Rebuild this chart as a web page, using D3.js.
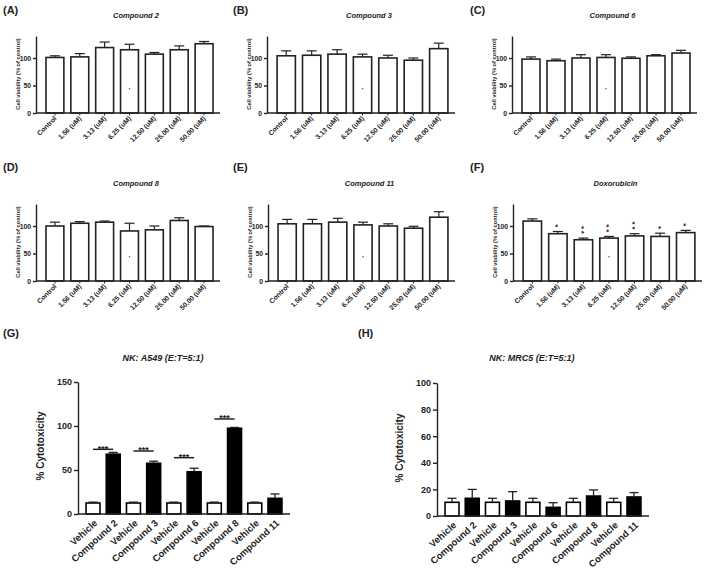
<!DOCTYPE html>
<html lang="en">
<head>
<meta charset="UTF-8">
<title>Cell viability and NK cytotoxicity</title>
<script src="https://cdnjs.cloudflare.com/ajax/libs/d3/7.8.5/d3.min.js"></script>
<style>
    body { margin: 0; background: #fff; }
    svg { display: block; font-family: 'Liberation Sans', Arial, sans-serif; font-weight: bold; }
    .axis path, .axis line { stroke: #222; stroke-width: 1.4; }
    .axis text { fill: #222; font-weight: bold; }
</style>
</head>
<body>
<div id="chart"></div>
<script>
// ---- data ----
const concLabels = ["Control", "1.56 (uM)", "3.13 (uM)", "6.25 (uM)", "12.50 (uM)", "25.00 (uM)", "50.00 (uM)"];
const viabilityTicks = [0, 50, 100];

const comp2Mean = [101, 102, 119, 115, 107, 115, 126];
const comp2Err = [3, 6, 10, 10, 3, 7, 4];
const comp3Mean = [104, 105, 107, 102, 100, 96, 117];
const comp3Err = [9, 8, 8, 5, 5, 4, 10];
const comp6Mean = [98, 95, 100, 101, 99.5, 104, 109];
const comp6Err = [4, 3, 6, 5, 2.5, 2, 5];
const comp8Mean = [100, 105, 107, 91, 93, 110, 99];
const comp8Err = [7, 3, 2, 14, 7, 5, 1];
const comp11Mean = [104, 104, 107, 102, 100, 96, 116];
const comp11Err = [8, 8, 7, 5, 4, 3.5, 10];
const doxMean = [109, 86, 75, 78, 82, 81, 88];
const doxErr = [4, 4, 3, 3, 4, 6, 4];
const doxSig = ["", "*", "**", "**", "**", "*", "*"];

const nkLabels = ["Vehicle", "Compound 2", "Vehicle", "Compound 3", "Vehicle", "Compound 6", "Vehicle", "Compound 8", "Vehicle", "Compound 11"];
const a549Mean = [12.5, 68, 12.5, 57.6, 12.5, 48, 12.5, 97.4, 12.5, 17.8];
const a549Err = [1, 2, 1, 2.4, 1, 4, 1, 1, 1, 5];
const a549SigY = [73.5, 71.6, 64, 108];   // height of each *** bracket
const a549Ticks = [0, 50, 100, 150];
const mrc5Mean = [10.3, 13.3, 10.3, 11.3, 10.3, 6.5, 10.3, 15, 10.3, 14.3];
const mrc5Err = [3, 6.7, 3, 7, 3, 3.5, 3, 4.6, 3, 3.3];
const mrc5Ticks = [0, 20, 40, 60, 80, 100];

// ---- layout ----
const svg = d3.select("#chart").append("svg")
    .attr("width", 709)
    .attr("height", 576);

const ink = "#222";

const viabilityPanels = [
    { letter: "(A)", title: "Compound 2", mean: comp2Mean, err: comp2Err, x0: 36, x1: 220, y0: 113, lx: 3, ly: 14 },
    { letter: "(B)", title: "Compound 3", mean: comp3Mean, err: comp3Err, x0: 267, x1: 455, y0: 113, lx: 233, ly: 14 },
    { letter: "(C)", title: "Compound 6", mean: comp6Mean, err: comp6Err, x0: 512, x1: 697, y0: 113, lx: 470, ly: 14 },
    { letter: "(D)", title: "Compound 8", mean: comp8Mean, err: comp8Err, x0: 36, x1: 220, y0: 281, lx: 3, ly: 171 },
    { letter: "(E)", title: "Compound 11", mean: comp11Mean, err: comp11Err, x0: 268, x1: 455, y0: 281, lx: 233, ly: 171 },
    { letter: "(F)", title: "Doxorubicin", mean: doxMean, err: doxErr, sig: doxSig, x0: 513, x1: 702, y0: 281, lx: 470, ly: 171 }
];

viabilityPanels.forEach(p => {
    const g = svg.append("g");

    const x = d3.scaleBand()
        .domain(concLabels)
        .range([p.x0 + 5, p.x1 - 2])
        .paddingInner(0.28)
        .paddingOuter(0.2);

    const y = d3.scaleLinear()
        .domain([0, 140])
        .range([p.y0, p.y0 - 77]);

    // panel letter and title
    g.append("text")
        .attr("x", p.lx).attr("y", p.ly)
        .style("font-size", "11px").attr("fill", ink)
        .text(p.letter);

    g.append("text")
        .attr("x", (p.x0 + p.x1) / 2 + 8).attr("y", p.y0 - 95)
        .attr("text-anchor", "middle")
        .style("font-size", "7.5px").style("font-style", "italic").attr("fill", ink)
        .text(p.title);

    // bars
    g.selectAll("rect.bar")
        .data(p.mean)
        .enter().append("rect")
        .attr("class", "bar")
        .attr("x", (d, i) => x(concLabels[i]))
        .attr("y", d => y(d))
        .attr("width", x.bandwidth())
        .attr("height", d => y(0) - y(d))
        .attr("fill", "#fff")
        .attr("stroke", ink)
        .attr("stroke-width", 1.6);

    // upward error bars
    const cx = i => x(concLabels[i]) + x.bandwidth() / 2;
    p.mean.forEach((m, i) => {
        g.append("line")
            .attr("x1", cx(i)).attr("x2", cx(i))
            .attr("y1", y(m)).attr("y2", y(m + p.err[i]))
            .attr("stroke", ink).attr("stroke-width", 1.2);
        g.append("line")
            .attr("x1", cx(i) - 5).attr("x2", cx(i) + 5)
            .attr("y1", y(m + p.err[i])).attr("y2", y(m + p.err[i]))
            .attr("stroke", ink).attr("stroke-width", 1.2);
    });

    // significance stars (doxorubicin): one text, turned upright so the stars stack
    if (p.sig) {
        p.sig.forEach((s, i) => {
            if (!s) return;
            const mid = y(p.mean[i] + p.err[i]) - 2.3 - 2.5 * s.length;
            g.append("text")
                .attr("transform", `translate(${cx(i) - 4.6},${mid}) rotate(90)`)
                .attr("text-anchor", "middle")
                .style("font-size", "8px")
                .style("letter-spacing", "1.7px")
                .attr("fill", ink)
                .text(s);
        });
    }

    // small stray dot visible in every panel of the original
    g.append("circle")
        .attr("cx", cx(3)).attr("cy", y(44))
        .attr("r", 0.8).attr("fill", "#666");

    // axes
    g.append("g")
        .attr("class", "axis")
        .attr("transform", `translate(${p.x0},0)`)
        .call(d3.axisLeft(y).tickValues(viabilityTicks).tickSize(3).tickSizeOuter(0).tickPadding(2))
        .call(a => a.selectAll("text").style("font-size", "6.8px"));

    g.append("line")
        .attr("x1", p.x0).attr("x2", p.x1)
        .attr("y1", y(0)).attr("y2", y(0))
        .attr("stroke", ink).attr("stroke-width", 1.4);

    concLabels.forEach((c, i) => {
        g.append("line")
            .attr("x1", cx(i)).attr("x2", cx(i))
            .attr("y1", y(0)).attr("y2", y(0) + 2.5)
            .attr("stroke", ink).attr("stroke-width", 1);
        g.append("text")
            .attr("transform", `translate(${cx(i) + 2},${y(0) + 6}) rotate(-45)`)
            .attr("text-anchor", "end")
            .style("font-size", "6.8px").attr("fill", ink)
            .text(c);
    });

    g.append("text")
        .attr("transform", `translate(${p.x0 - 16},${p.y0 - 39}) rotate(-90)`)
        .attr("text-anchor", "middle")
        .style("font-size", "5.7px").attr("fill", ink)
        .text("Cell viability (% of control)");
});

// ---- NK cytotoxicity panels ----
const nkPanels = [
    { letter: "(G)", title: "NK: A549 (E:T=5:1)", mean: a549Mean, err: a549Err, sigY: a549SigY,
      ticks: a549Ticks, yMax: 150, x0: 78, x1: 290, y0: 514, yTop: 382, lx: 3, ly: 337, tx: 163, labX: 44 },
    { letter: "(H)", title: "NK: MRC5 (E:T=5:1)", mean: mrc5Mean, err: mrc5Err,
      ticks: mrc5Ticks, yMax: 100, x0: 437, x1: 649, y0: 516, yTop: 383, lx: 358, ly: 337, tx: 532, labX: 403 }
];

nkPanels.forEach(p => {
    const g = svg.append("g");

    const x = d3.scaleBand()
        .domain(d3.range(nkLabels.length))
        .range([p.x0 + 4, p.x1 - 4])
        .paddingInner(0.31)
        .paddingOuter(0.2);

    const y = d3.scaleLinear()
        .domain([0, p.yMax])
        .range([p.y0, p.yTop]);

    const cx = i => x(i) + x.bandwidth() / 2;

    g.append("text")
        .attr("x", p.lx).attr("y", p.ly)
        .style("font-size", "11px").attr("fill", ink)
        .text(p.letter);

    g.append("text")
        .attr("x", p.tx).attr("y", 361)
        .attr("text-anchor", "middle")
        .style("font-size", "9px").style("font-style", "italic").attr("fill", ink)
        .text(p.title);

    g.selectAll("rect.bar")
        .data(p.mean)
        .enter().append("rect")
        .attr("class", "bar")
        .attr("x", (d, i) => x(i))
        .attr("y", d => y(d))
        .attr("width", x.bandwidth())
        .attr("height", d => y(0) - y(d))
        .attr("fill", (d, i) => i % 2 === 0 ? "#fff" : "#000")
        .attr("stroke", "#000")
        .attr("stroke-width", 1.6);

    p.mean.forEach((m, i) => {
        g.append("line")
            .attr("x1", cx(i)).attr("x2", cx(i))
            .attr("y1", y(m)).attr("y2", y(m + p.err[i]))
            .attr("stroke", ink).attr("stroke-width", 1.3);
        g.append("line")
            .attr("x1", cx(i) - 4.5).attr("x2", cx(i) + 4.5)
            .attr("y1", y(m + p.err[i])).attr("y2", y(m + p.err[i]))
            .attr("stroke", ink).attr("stroke-width", 1.3);
    });

    if (p.sigY) {
        p.sigY.forEach((s, k) => {
            const a = cx(2 * k), b = cx(2 * k + 1);
            g.append("line")
                .attr("x1", a).attr("x2", b)
                .attr("y1", y(s)).attr("y2", y(s))
                .attr("stroke", ink).attr("stroke-width", 1.5);
            g.append("text")
                .attr("x", (a + b) / 2).attr("y", y(s) + 2.5)
                .attr("text-anchor", "middle")
                .style("font-size", "9px").attr("fill", ink)
                .text("***");
        });
    }

    g.append("g")
        .attr("class", "axis")
        .attr("transform", `translate(${p.x0},0)`)
        .call(d3.axisLeft(y).tickValues(p.ticks).tickSize(4).tickSizeOuter(0).tickPadding(2))
        .call(a => a.selectAll("text").style("font-size", "9px"));

    g.append("line")
        .attr("x1", p.x0).attr("x2", p.x1)
        .attr("y1", y(0)).attr("y2", y(0))
        .attr("stroke", ink).attr("stroke-width", 1.6);

    nkLabels.forEach((c, i) => {
        g.append("text")
            .attr("transform", `translate(${cx(i) + 5},${y(0) + 10}) rotate(-42)`)
            .attr("text-anchor", "end")
            .style("font-size", "9.5px").attr("fill", ink)
            .text(c);
    });

    g.append("text")
        .attr("transform", `translate(${p.labX},${p.y0 - 68}) rotate(-90)`)
        .attr("text-anchor", "middle")
        .style("font-size", "10px").attr("fill", ink)
        .text("% Cytotoxicity");
});
</script>
</body>
</html>
